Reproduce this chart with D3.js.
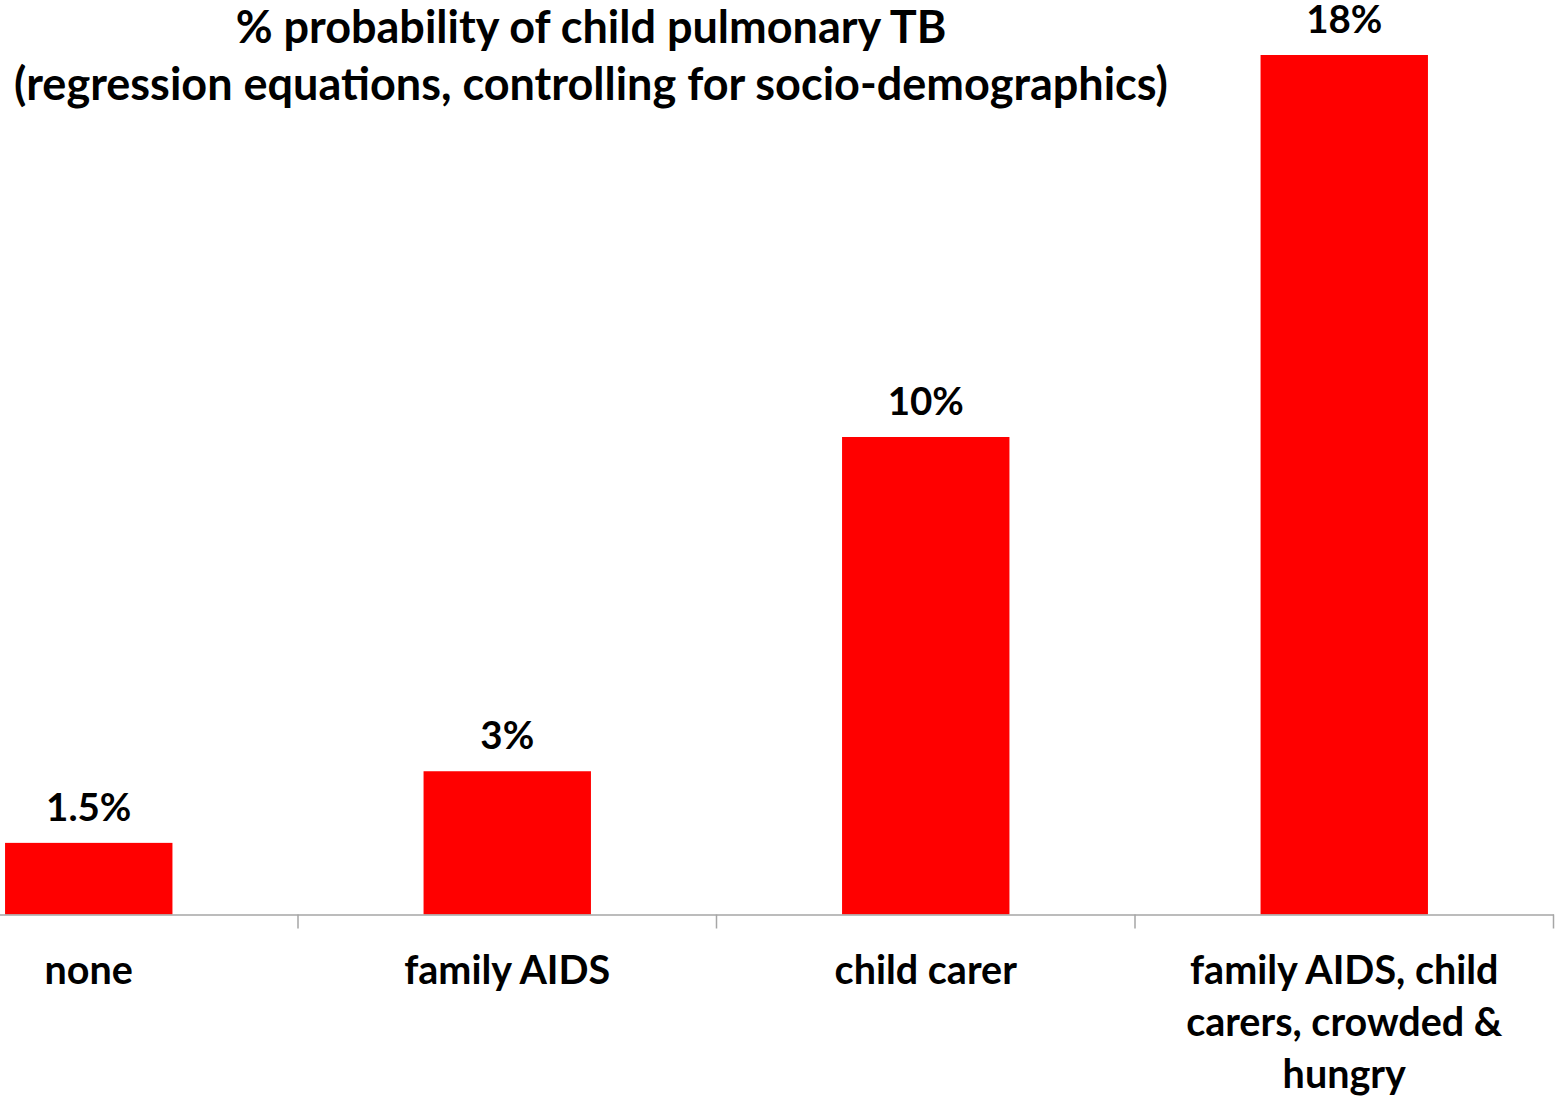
<!DOCTYPE html>
<html>
<head>
<meta charset="utf-8">
<script src="https://cdn.jsdelivr.net/npm/d3@7"></script>
<style>
  body { margin: 0; background: #fff; }
  text { font-family: Lato, "Open Sans", sans-serif; font-weight: bold; fill: #000; }
</style>
</head>
<body>
<div id="chart"></div>
<script>
// chart data
var categories = ["none", "family AIDS", "child carer", "family AIDS, child carers, crowded & hungry"];
var categoryLines = [["none"], ["family AIDS"], ["child carer"], ["family AIDS, child", "carers, crowded &", "hungry"]];
var values = [1.5, 3, 10, 18];
var valueLabels = ["1.5%", "3%", "10%", "18%"];
var titleLines = ["% probability of child pulmonary TB", "(regression equations, controlling for socio-demographics)"];

var width = 1561, height = 1096;
var baseline = 914.5;

var svg = d3.select("#chart")
  .append("svg")
  .attr("width", width)
  .attr("height", height);

// x scale: first band runs off the left edge like the original
var xScale = d3.scaleBand()
  .domain(categories)
  .range([-120.5, 1553.5])
  .paddingInner(0.6)
  .paddingOuter(0.3);

var yScale = d3.scaleLinear()
  .domain([0, 18])
  .range([baseline, 55]);

// bars
svg.selectAll(".bar")
  .data(values)
  .enter()
  .append("rect")
  .attr("class", "bar")
  .attr("x", function(d, i) { return xScale(categories[i]); })
  .attr("y", function(d) { return yScale(d); })
  .attr("width", xScale.bandwidth())
  .attr("height", function(d) { return baseline - yScale(d); })
  .style("fill", "#ff0000");

// axis line
var xAxis = d3.axisBottom(xScale).tickSize(0).tickFormat("");
var axisG = svg.append("g")
  .attr("transform", "translate(0," + baseline + ")")
  .call(xAxis);
axisG.select(".domain").attr("stroke", "#a6a6a6").attr("stroke-width", 1.5);

// tick marks between categories
var step = xScale.step();
var start = xScale.range()[0];
svg.selectAll(".tick-mark")
  .data(categories)
  .enter()
  .append("line")
  .attr("class", "tick-mark")
  .attr("x1", function(d, i) { return start + step * (i + 1); })
  .attr("x2", function(d, i) { return start + step * (i + 1); })
  .attr("y1", baseline)
  .attr("y2", baseline + 14)
  .attr("stroke", "#a6a6a6")
  .attr("stroke-width", 1.5);

// value labels
svg.selectAll(".value-label")
  .data(values)
  .enter()
  .append("text")
  .attr("class", "value-label")
  .attr("x", function(d, i) { return xScale(categories[i]) + xScale.bandwidth() / 2; })
  .attr("y", function(d) { return yScale(d) - 22; })
  .attr("text-anchor", "middle")
  .style("font-size", "38.5px")
  .text(function(d, i) { return valueLabels[i]; });

// category labels
var catG = svg.selectAll(".cat-label")
  .data(categories)
  .enter()
  .append("text")
  .attr("class", "cat-label")
  .attr("text-anchor", "middle")
  .style("font-size", "39.5px");

catG.each(function(d, i) {
  var cx = xScale(d) + xScale.bandwidth() / 2;
  d3.select(this).selectAll("tspan")
    .data(categoryLines[i])
    .enter()
    .append("tspan")
    .attr("x", cx)
    .attr("y", function(l, j) { return 984 + j * 52; })
    .text(function(l) { return l; });
});

// title
svg.selectAll(".title")
  .data(titleLines)
  .enter()
  .append("text")
  .attr("class", "title")
  .attr("x", 591)
  .attr("y", function(d, i) { return 43 + i * 57; })
  .attr("text-anchor", "middle")
  .style("font-size", "45px")
  .text(function(d) { return d; });
</script>
</body>
</html>
